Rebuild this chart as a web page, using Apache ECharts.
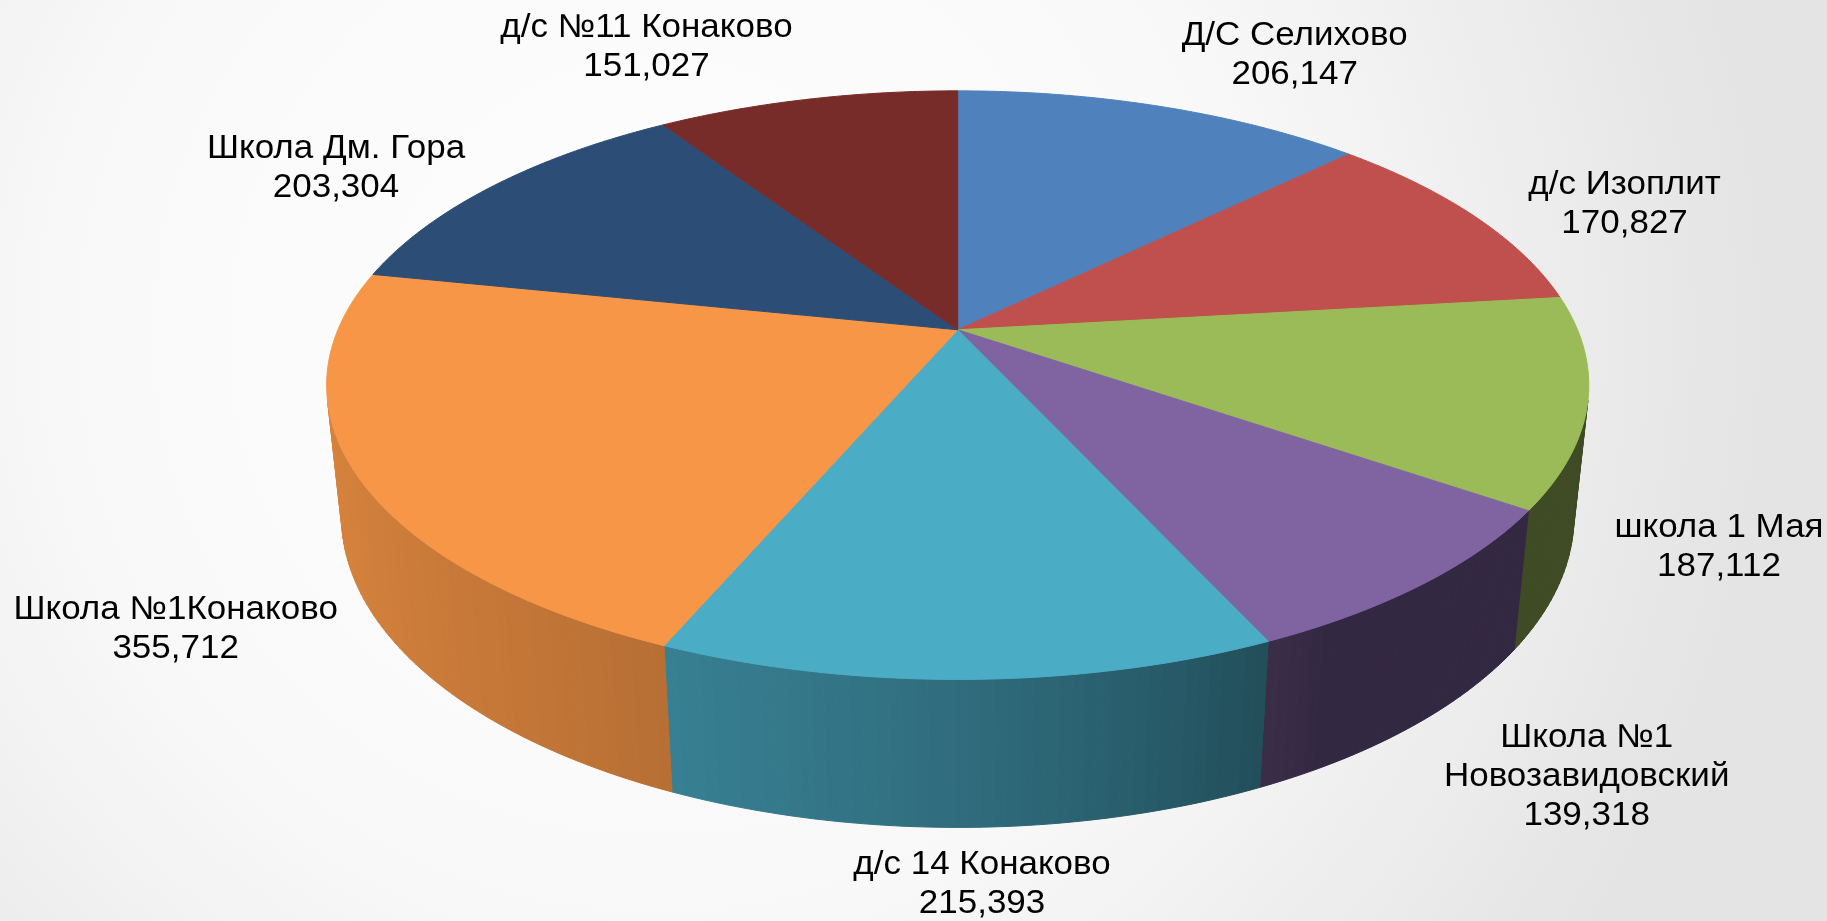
<!DOCTYPE html>
<html lang="ru">
<head>
<meta charset="utf-8">
<title>3D pie</title>
<script src="https://cdn.jsdelivr.net/npm/echarts@6/dist/echarts.min.js"></script>
<style>
  html, body { margin: 0; padding: 0; }
  #chart { width: 1827px; height: 921px; }
</style>
</head>
<body>
<div id="chart"></div>
<script>
// data, clockwise from 12 o'clock
const names = [
    'Д/С Селихово',
    'д/с Изоплит',
    'школа 1 Мая',
    'Школа №1\nНовозавидовский',
    'д/с 14 Конаково',
    'Школа №1Конаково',
    'Школа Дм. Гора',
    'д/с №11 Конаково',
];
const values = [206.147, 170.827, 187.112, 139.318, 215.393, 355.712, 203.304, 151.027];
const topColors = ['#4F81BD', '#C0504D', '#9BBB59', '#8064A2', '#4BACC6', '#F79646', '#2C4D75', '#772C2A'];

// small hand tweaks so labels sit where the original chart put them
const labelNudge = [[84, -4], [52, 10], [33, 0], [77, -4], [13, 6], [-41, -5], [-41, 11], [-115, -3]];

const total = values.reduce((a, b) => a + b, 0);
const starts = [];
let acc = 0;
values.forEach((v) => {
    starts.push((acc / total) * 360);
    acc += v;
});

// perspective camera looking down at the disc (radius 1)
const view = { cx: 0.5242, cy: 0.3581, focal: 1.604, dist: 4.728, tilt: 27.26, thick: 0.239 };
const rad = (d) => (d * Math.PI) / 180;
const se = Math.sin(rad(view.tilt));
const ce = Math.cos(rad(view.tilt));
const sideLimit = (Math.acos(-1 / (view.dist * ce)) * 180) / Math.PI;

const font = { size: 33, family: '"Liberation Sans", Arial, sans-serif', lineHeight: 39, stretch: 1.06 };

function project(api, r, deg, z) {
    const w = api.getWidth();
    const h = api.getHeight();
    const x = r * Math.sin(rad(deg));
    const yb = r * Math.cos(rad(deg));
    const depth = yb * ce - z * se + view.dist;
    const up = yb * se + z * ce;
    const k = (view.focal * w) / depth;
    return [w * view.cx + x * k, h * view.cy - up * k];
}

function shade(hex, f) {
    const n = parseInt(hex.slice(1), 16);
    const r = Math.round(((n >> 16) & 255) * f);
    const g = Math.round(((n >> 8) & 255) * f);
    const b = Math.round((n & 255) * f);
    return `rgb(${r},${g},${b})`;
}

// side walls get lighter toward the left, darker toward the right
const sideFactor = (deg) => 0.4 + 0.55 * (1 - Math.exp(-Math.max(0, deg - 150) / 55));

function sliceRange(i, api) {
    const a0 = starts[i];
    return [a0, a0 + (api.value(0) / total) * 360];
}

function renderSides(params, api) {
    const i = params.dataIndex;
    const [a0, a1] = sliceRange(i, api);
    const lo = Math.max(a0, sideLimit);
    const hi = Math.min(a1, 360 - sideLimit);
    const children = [];
    if (hi > lo) {
        const n = Math.ceil(hi - lo);
        for (let j = 0; j < n; j++) {
            const t0 = lo + ((hi - lo) * j) / n;
            const t1 = lo + ((hi - lo) * (j + 1)) / n;
            const color = shade(topColors[i], sideFactor((t0 + t1) / 2));
            children.push({
                type: 'polygon',
                shape: {
                    points: [
                        project(api, 1, t0, 0),
                        project(api, 1, t1, 0),
                        project(api, 1, t1, -view.thick),
                        project(api, 1, t0, -view.thick),
                    ],
                },
                style: { fill: color, stroke: color, lineWidth: 1 },
            });
        }
    }
    return { type: 'group', children };
}

function renderTop(params, api) {
    const i = params.dataIndex;
    const [a0, a1] = sliceRange(i, api);
    const pts = [project(api, 0, 0, 0)];
    const n = Math.max(2, Math.ceil((a1 - a0) * 2));
    for (let j = 0; j <= n; j++) {
        pts.push(project(api, 1, a0 + ((a1 - a0) * j) / n, 0));
    }
    return {
        type: 'polygon',
        shape: { points: pts },
        style: { fill: topColors[i], stroke: topColors[i], lineWidth: 1 },
    };
}

const measureCtx = document.createElement('canvas').getContext('2d');
measureCtx.font = `${font.size}px ${font.family}`;

const labelText = (i) => `${names[i]}\n${values[i].toFixed(3).replace('.', ',')}`;

function renderLabel(params, api) {
    const i = params.dataIndex;
    const [a0, a1] = sliceRange(i, api);
    const mid = (a0 + a1) / 2;
    const z = Math.cos(rad(mid)) < 0 ? -view.thick : 0;
    const anchor = project(api, 1, mid, z);
    const ux = Math.sin(rad(mid));
    const uy = -Math.cos(rad(mid));
    const text = labelText(i);
    const lines = text.split('\n');
    const w = font.stretch * Math.max(...lines.map((l) => measureCtx.measureText(l).width));
    const h = lines.length * font.lineHeight;
    const gap = 12;
    return {
        type: 'text',
        x: anchor[0] + ux * (gap + w / 2) + labelNudge[i][0],
        y: anchor[1] + uy * (gap + h / 2) + labelNudge[i][1],
        scaleX: font.stretch,
        style: {
            text,
            fill: '#000',
            fontSize: font.size,
            fontFamily: font.family,
            lineHeight: font.lineHeight,
            align: 'center',
            verticalAlign: 'middle',
        },
    };
}

const chart = echarts.init(document.getElementById('chart'));
const seriesData = values.map((v, i) => ({ name: names[i], value: v }));

chart.setOption({
    animation: false,
    backgroundColor: new echarts.graphic.RadialGradient(0.36, 0.36, 1.2, [
        { offset: 0, color: '#ffffff' },
        { offset: 0.55, color: '#f8f8f8' },
        { offset: 1, color: '#e4e4e4' },
    ]),
    series: [
        { type: 'custom', coordinateSystem: 'none', silent: true, z: 2, data: seriesData, renderItem: renderSides },
        { type: 'custom', coordinateSystem: 'none', silent: true, z: 3, data: seriesData, renderItem: renderTop },
        { type: 'custom', coordinateSystem: 'none', silent: true, z: 4, data: seriesData, renderItem: renderLabel },
    ],
});

window.addEventListener('resize', chart.resize);
</script>
</body>
</html>
